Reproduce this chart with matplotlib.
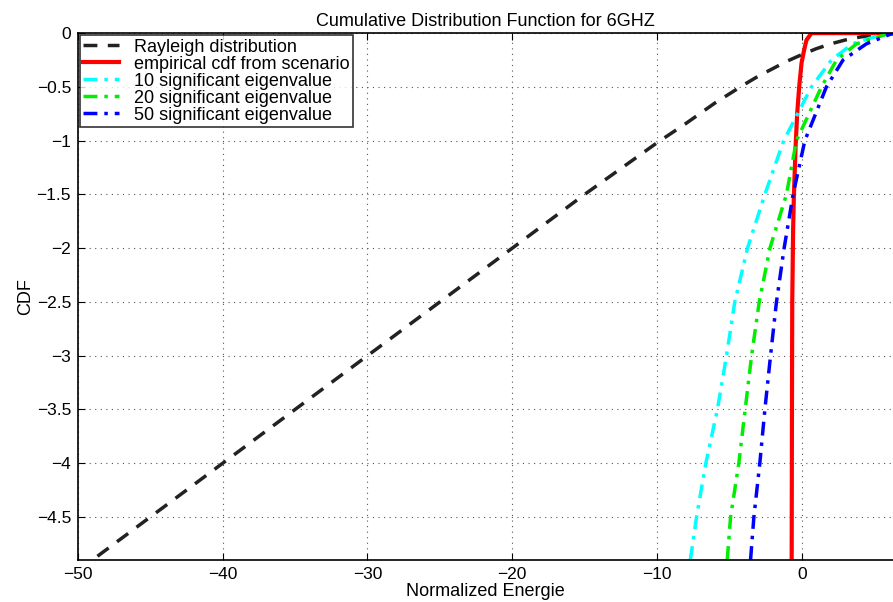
import matplotlib
matplotlib.use("Agg")
import matplotlib.pyplot as plt

plt.rcParams['font.family'] = ['Liberation Sans', 'DejaVu Sans']

# Rayleigh reference curve (log10 CDF vs normalized energy in dB)
ray_x = [-50, -45, -40, -35, -30, -25, -20, -15, -10, -8, -6, -4, -3, -2, -1, 0, 1, 2, 3, 4, 5, 6.3]
ray_y = [-5.0, -4.5, -4.0, -3.5, -3.0, -2.5, -2.0, -1.5, -1.02, -0.84, -0.65, -0.48, -0.40, -0.33,
         -0.26, -0.20, -0.145, -0.10, -0.064, -0.037, -0.019, -0.006]

# Empirical CDF from scenario
emp_x = [-0.70, -0.68, -0.66, -0.60, -0.55, -0.43, -0.32, -0.18, -0.02, 0.14, 0.32, 0.67, 2.0, 6.3]
emp_y = [-4.95, -3.5, -2.5, -1.83, -1.53, -1.06, -0.75, -0.50, -0.28, -0.17, -0.065, 0.0, 0.0, 0.0]

# Eigenvalue-based approximations
ev10_x = [-7.7, -7.27, -6.63, -5.83, -5.2, -4.63, -3.75, -2.55, -1.25, 0.67, 2.05, 3.5, 5.85]
ev10_y = [-4.9, -4.5, -4.0, -3.5, -3.0, -2.5, -2.0, -1.5, -1.0, -0.5, -0.25, -0.1, 0.0]

ev20_x = [-5.15, -4.92, -4.35, -3.91, -3.47, -2.94, -2.2, -1.06, -0.37, 1.36, 2.4, 3.78, 6.1]
ev20_y = [-4.9, -4.5, -4.0, -3.5, -3.0, -2.5, -2.0, -1.5, -1.0, -0.5, -0.25, -0.1, 0.0]

ev50_x = [-3.54, -3.31, -2.9, -2.55, -2.16, -1.75, -1.22, -0.6, 0.21, 1.7, 2.85, 4.46, 6.3]
ev50_y = [-4.9, -4.5, -4.0, -3.5, -3.0, -2.5, -2.0, -1.5, -1.0, -0.5, -0.25, -0.1, 0.0]

x_ticks = [-50, -40, -30, -20, -10, 0]
y_ticks = [-4.5, -4, -3.5, -3, -2.5, -2, -1.5, -1, -0.5, 0]
y_tick_labels = ['\u22124.5', '\u22124', '\u22123.5', '\u22123', '\u22122.5', '\u22122',
                 '\u22121.5', '\u22121', '\u22120.5', '0']

fig = plt.figure(figsize=(8.93, 6.02), dpi=100)
ax = fig.add_axes([0.0873, 0.0698, 0.9127, 0.8752])

ax.plot(ray_x, ray_y, color='#222222', linestyle=(0, (4, 3)), lw=2.5, label='Rayleigh distribution')
ax.plot(emp_x, emp_y, color='red', linestyle='-', lw=3, label='empirical cdf from scenario')
ax.plot(ev10_x, ev10_y, color='cyan', linestyle=(0, (4, 2, 1, 2)), lw=2.5, label='10 significant eigenvalue')
ax.plot(ev20_x, ev20_y, color='#00ee00', linestyle=(0, (4, 2, 1, 2)), lw=2.5, label='20 significant eigenvalue')
ax.plot(ev50_x, ev50_y, color='blue', linestyle=(0, (4, 2, 1, 2)), lw=2.5, label='50 significant eigenvalue')

ax.set_xlim(-50, 6.3)
ax.set_ylim(-4.9, 0)
ax.set_xticks(x_ticks)
ax.set_yticks(y_ticks)
ax.set_yticklabels(y_tick_labels)
ax.tick_params(direction='in', top=True, right=False, labelsize=12.5, length=5, width=0.8, pad=5)
ax.grid(True, linestyle=(0, (1, 4)), color='#555555', lw=0.8)
ax.spines['right'].set_visible(False)
for s in ['left', 'top', 'bottom']:
    ax.spines[s].set_linewidth(1.2)

ax.set_title('Cumulative Distribution Function for 6GHZ', fontsize=13, pad=5)
ax.set_xlabel('Normalized Energie', fontsize=13, labelpad=1)
ax.set_ylabel('CDF', fontsize=13, labelpad=2)

leg = ax.legend(loc='upper left', fontsize=13, frameon=True, fancybox=False, borderaxespad=0.1,
                handlelength=2.0, labelspacing=0.0, borderpad=0.2, handletextpad=0.8)
leg.get_frame().set_edgecolor('black')
leg.get_frame().set_linewidth(1.2)

fig.savefig('out.png', dpi=100)
